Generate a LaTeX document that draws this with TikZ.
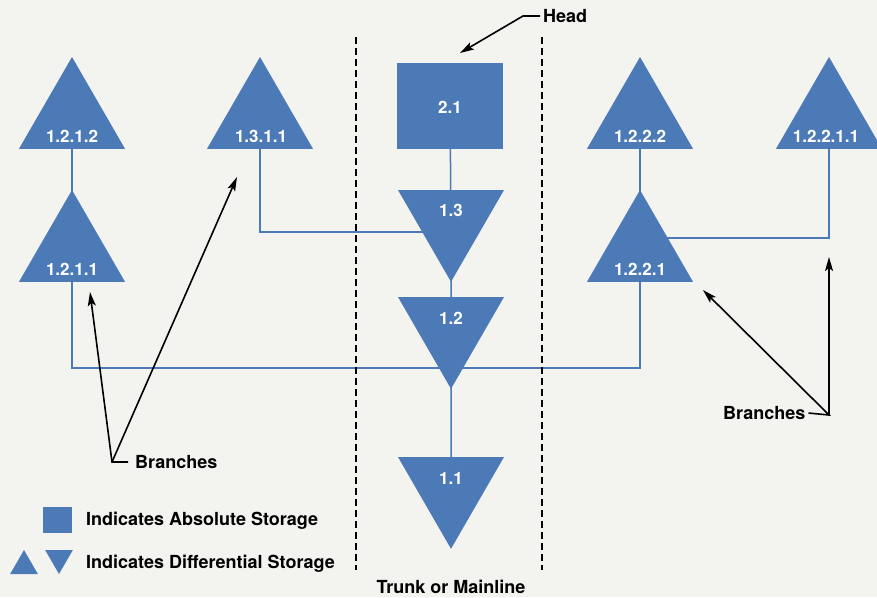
\documentclass[tikz,border=0pt]{standalone}
\usepackage{fontspec}
\setmainfont{TeX Gyre Heros}
\usetikzlibrary{shapes.geometric,arrows.meta,calc}
\definecolor{vblue}{RGB}{76,122,182}
\definecolor{paper}{RGB}{243,243,240}
\pgfdeclarelayer{bg}
\pgfdeclarelayer{paperlayer}
\pgfsetlayers{paperlayer,bg,main}
\begin{document}
\begin{tikzpicture}[x=1pt,y=-1pt,
  utri/.style={regular polygon,regular polygon sides=3,fill=vblue,draw=none,minimum size=122.4pt,inner sep=0pt,outer sep=0pt},
  dtri/.style={utri,shape border rotate=180},
  sqbox/.style={rectangle,fill=vblue,draw=none,inner sep=0pt,outer sep=0pt},
  lbl/.style={text=white,font=\bfseries\fontsize{17}{17}\selectfont,inner sep=0pt,anchor=base},
  txt/.style={text=black,font=\bfseries\fontsize{18}{18}\selectfont,inner sep=0pt},
  conn/.style={draw=vblue,line width=1.5pt},
  arr/.style={draw=black,line width=1.6pt,-{Stealth[length=14pt,width=8pt,inset=3pt]}},
  dashline/.style={draw=black,line width=1.1pt,dash pattern=on 7pt off 4pt}]
\useasboundingbox (0,0) rectangle (877,597);
\begin{pgfonlayer}{paperlayer}
\fill[paper] (0,0) rectangle (877,597);
\end{pgfonlayer}
\begin{scope}
\clip (0,0) rectangle (877,597);
% guide lines
\draw[dashline] (356,37) -- (356,570);
\draw[dashline] (542,37) -- (542,570);
% trunk
\node[sqbox,minimum width=106pt,minimum height=86pt] (sq21) at (450,106) {};
\node[dtri] (t13) at (451,220.6) {};
\node[dtri] (t12) at (451,327.6) {};
\node[dtri] (t11) at (451,487.6) {};
% branches
\node[utri] (t1311) at (260,118.2) {};
\node[utri] (t1212) at (72,118.2) {};
\node[utri] (t1211) at (72,251.2) {};
\node[utri] (t1222) at (640,118.2) {};
\node[utri] (t1221) at (640,251.2) {};
\node[utri] (t12211) at (829,118.2) {};
% labels
\node[lbl] (l21) at (450,113) {2.1};
\node[lbl] (l13) at (451,216) {1.3};
\node[lbl] (l12) at (451,324) {1.2};
\node[lbl] (l11) at (451,484) {1.1};
\node[lbl] (l1311) at (261,142) {1.3.1.1};
\node[lbl] (l1212) at (72,142) {1.2.1.2};
\node[lbl] (l1211) at (72,275) {1.2.1.1};
\node[lbl] (l1222) at (640,142) {1.2.2.2};
\node[lbl] (l1221) at (640,275) {1.2.2.1};
\node[lbl] (l12211) at (826,142) {1.2.2.1.1};
\end{scope}
% connectors
\begin{pgfonlayer}{bg}
\draw[conn] (sq21.center) -- (t13.center) -- (t12.center) -- (t11.center);
\draw[conn] (t1212.center) -- (t1211.center);
\draw[conn] (t1222.center) -- (t1221.center);
\draw[conn] (t1311.center) |- ([yshift=-11.4pt]t13.center);
\draw[conn] (t1211.center) |- ([yshift=-40.4pt]t12.center) -| (t1221.center);
\draw[conn] ([yshift=13pt]t1221.center) -| (t12211.center);
\end{pgfonlayer}
% annotations
\node[txt,anchor=base west] (head) at (543,22.5) {Head};
\coordinate (headbend) at (523,16);
\coordinate (headtip) at (460,53);
\draw[arr] ([xshift=-3pt]head.west) -- (headbend) -- (headtip);

\node[txt,anchor=base west] (brL) at (135,468.5) {Branches};
\coordinate (brLc) at (112,462);
\coordinate (tipA) at (90,292);
\coordinate (tipB) at (237,177);
\draw[arr] ([xshift=-7pt]brL.west) -- (brLc) -- (tipA);
\draw[arr] (brLc) -- (tipB);

\node[txt,anchor=base west] (brR) at (723,419.5) {Branches};
\coordinate (brRc) at (829,415);
\coordinate (tipC) at (703,290);
\coordinate (tipD) at (829,257);
\draw[arr] ([xshift=3pt]brR.east) -- (brRc) -- (tipC);
\draw[arr] (brRc) -- (tipD);

\node[txt,anchor=base] (trunk) at (451,593) {Trunk or Mainline};

% legend
\node[sqbox,minimum width=29pt,minimum height=26pt] (legsq) at (57.5,520) {};
\node[utri,minimum size=32pt] (legup) at (24,566) {};
\node[dtri,minimum size=32pt] (legdn) at (59,558) {};
\node[txt,anchor=base west] (legabs) at (86,525.5) {Indicates Absolute Storage};
\node[txt,anchor=base west] (legdif) at (86,568.5) {Indicates Differential Storage};
\end{tikzpicture}
\end{document}
